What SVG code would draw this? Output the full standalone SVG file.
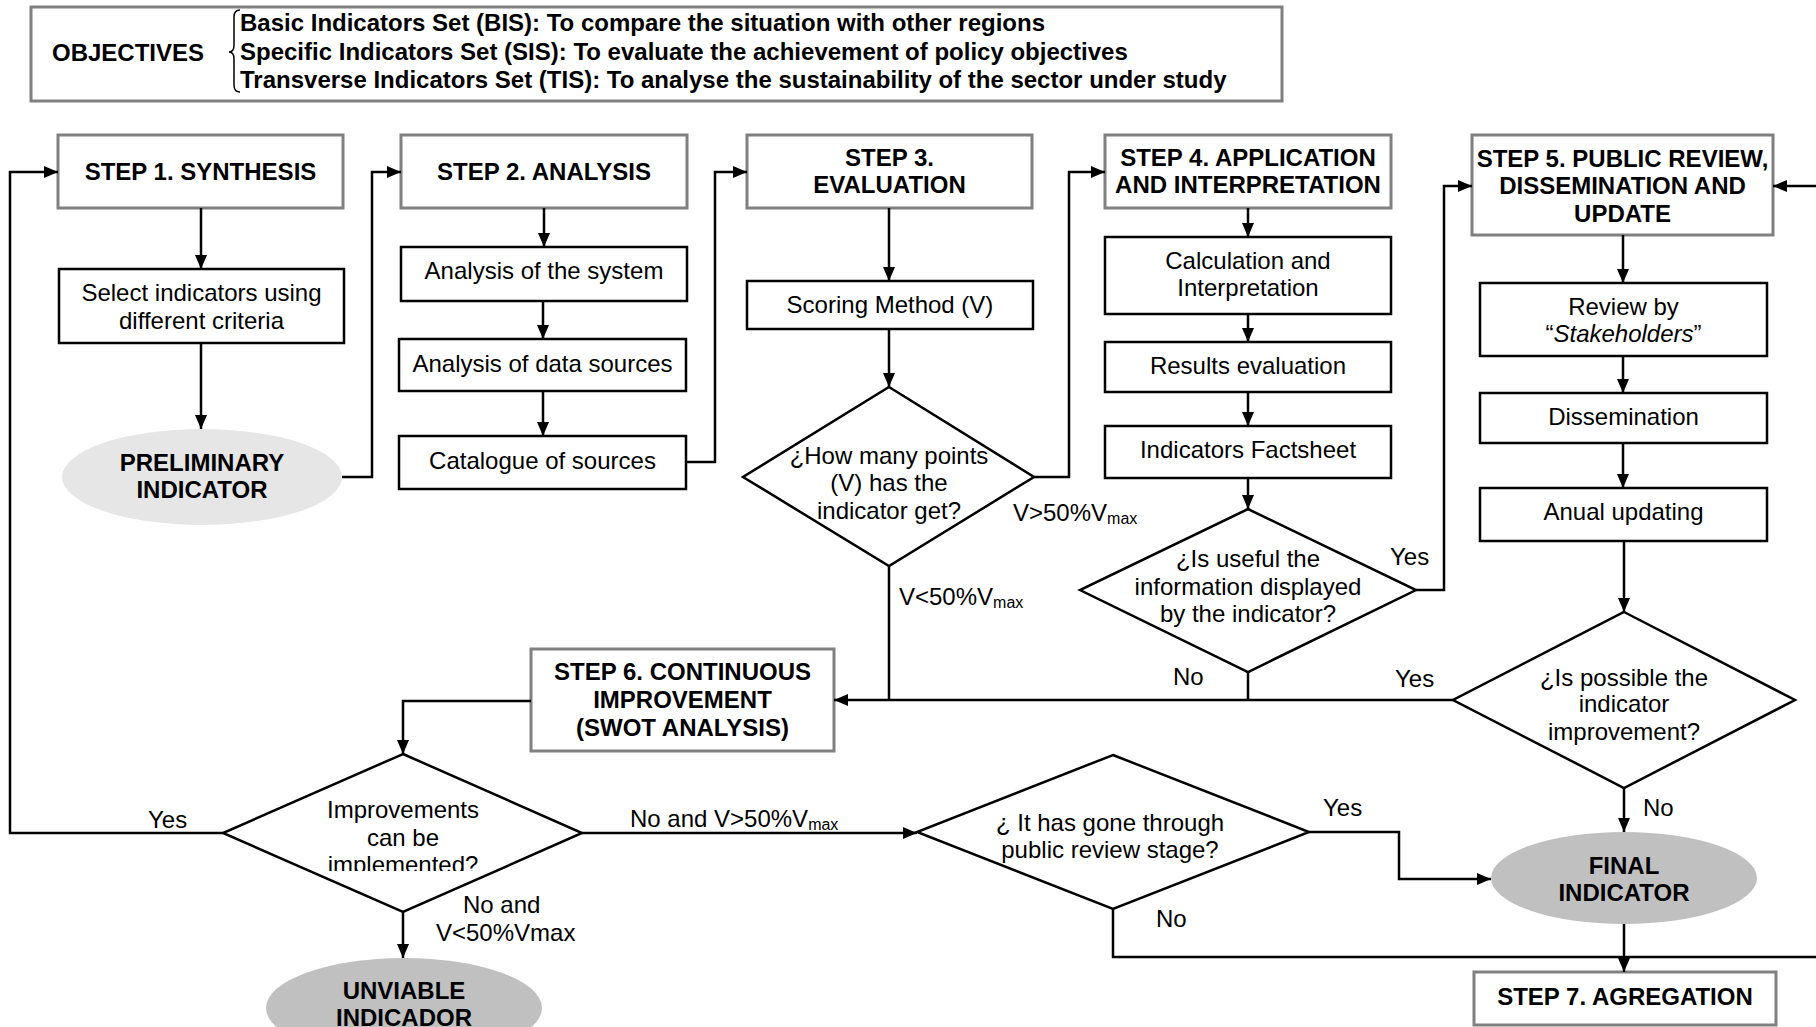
<svg xmlns="http://www.w3.org/2000/svg" width="1816" height="1027" viewBox="0 0 1816 1027">
<style>
text{font-family:"Liberation Sans",Arial,sans-serif;font-size:24px;fill:#000}
.b{font-weight:bold}
.m{text-anchor:middle}
.step{fill:#fff;stroke:#808080;stroke-width:3}
.box{fill:#fff;stroke:#000;stroke-width:2.5}
.dia{fill:#fff;stroke:#000;stroke-width:2.5}
.con path{fill:none;stroke:#000;stroke-width:2.5}
.sub{font-size:16px}
</style>
<defs>
<marker id="ah" markerUnits="userSpaceOnUse" markerWidth="14" markerHeight="12" refX="14" refY="6" orient="auto">
<path d="M0,0 L14,6 L0,12 z" fill="#000"/>
</marker>
<clipPath id="clipImp"><rect x="223" y="754" width="360" height="117"/></clipPath>
</defs>
<rect width="1816" height="1027" fill="#fff"/>

<g id="objectives">
<rect x="31" y="7" width="1251" height="94" fill="#fff" stroke="#808080" stroke-width="3"/>
<text class="b" x="52" y="61">OBJECTIVES</text>
<path d="M240,10 Q234,10 234,17 V45 Q234,52 229,52 Q234,52 234,59 V85 Q234,92 240,92" fill="none" stroke="#000" stroke-width="1.5"/>
<text class="b" x="240" y="31">Basic Indicators Set (BIS): To compare the situation with other regions</text>
<text class="b" x="240" y="60">Specific Indicators Set (SIS): To evaluate the achievement of policy objectives</text>
<text class="b" x="240" y="88">Transverse Indicators Set (TIS): To analyse the sustainability of the sector under study</text>
</g>

<g id="step1"><rect class="step" x="58" y="135" width="285" height="73"/><text class="b m" x="200.5" y="180">STEP 1. SYNTHESIS</text></g>
<g id="select"><rect class="box" x="59" y="269" width="285" height="74"/><text class="m" x="201.5" y="301">Select indicators using</text><text class="m" x="201.5" y="329">different criteria</text></g>
<g id="preliminary"><ellipse cx="202" cy="477" rx="140" ry="48" fill="#e6e6e6"/><text class="b m" x="202" y="471">PRELIMINARY</text><text class="b m" x="202" y="498">INDICATOR</text></g>

<g id="step2"><rect class="step" x="401" y="135" width="286" height="73"/><text class="b m" x="544" y="180">STEP 2. ANALYSIS</text></g>
<g id="analysis_system"><rect class="box" x="401" y="247" width="286" height="54"/><text class="m" x="544" y="279">Analysis of the system</text></g>
<g id="analysis_data"><rect class="box" x="399" y="339" width="287" height="52"/><text class="m" x="542.5" y="372">Analysis of data sources</text></g>
<g id="catalogue"><rect class="box" x="399" y="436" width="287" height="53"/><text class="m" x="542.5" y="469">Catalogue of sources</text></g>

<g id="step3"><rect class="step" x="747" y="135" width="285" height="73"/><text class="b m" x="889.5" y="166">STEP 3.</text><text class="b m" x="889.5" y="193">EVALUATION</text></g>
<g id="scoring"><rect class="box" x="747" y="281" width="286" height="48"/><text class="m" x="890" y="313">Scoring Method (V)</text></g>
<g id="d_points"><polygon class="dia" points="889,387 1034,477 889,566 743,477"/><text class="m" x="889" y="464">¿How many points</text><text class="m" x="889" y="491">(V) has the</text><text class="m" x="889" y="519">indicator get?</text></g>

<g id="step4"><rect class="step" x="1105" y="135" width="286" height="73"/><text class="b m" x="1248" y="166">STEP 4. APPLICATION</text><text class="b m" x="1248" y="193">AND INTERPRETATION</text></g>
<g id="calc"><rect class="box" x="1105" y="237" width="286" height="77"/><text class="m" x="1248" y="269">Calculation and</text><text class="m" x="1248" y="296">Interpretation</text></g>
<g id="results"><rect class="box" x="1105" y="342" width="286" height="50"/><text class="m" x="1248" y="374">Results evaluation</text></g>
<g id="factsheet"><rect class="box" x="1105" y="426" width="286" height="52"/><text class="m" x="1248" y="458">Indicators Factsheet</text></g>
<g id="d_useful"><polygon class="dia" points="1248,509 1416,590 1248,672 1080,590"/><text class="m" x="1248" y="567">¿Is useful the</text><text class="m" x="1248" y="595">information displayed</text><text class="m" x="1248" y="622">by the indicator?</text></g>

<g id="step5"><rect class="step" x="1472" y="135" width="301" height="100"/><text class="b m" x="1622.5" y="167">STEP 5. PUBLIC REVIEW,</text><text class="b m" x="1622.5" y="194">DISSEMINATION AND</text><text class="b m" x="1622.5" y="222">UPDATE</text></g>
<g id="review"><rect class="box" x="1480" y="283" width="287" height="73"/><text class="m" x="1623.5" y="315">Review by</text><text class="m" x="1623.5" y="342">“<tspan font-style="italic">Stakeholders</tspan>”</text></g>
<g id="dissemination"><rect class="box" x="1480" y="393" width="287" height="50"/><text class="m" x="1623.5" y="425">Dissemination</text></g>
<g id="anual"><rect class="box" x="1480" y="488" width="287" height="53"/><text class="m" x="1623.5" y="520">Anual updating</text></g>
<g id="d_possible"><polygon class="dia" points="1624,612 1795,700 1624,788 1453,700"/><text class="m" x="1624" y="686">¿Is possible the</text><text class="m" x="1624" y="712">indicator</text><text class="m" x="1624" y="740">improvement?</text></g>
<g id="final"><ellipse cx="1624" cy="878" rx="133" ry="46" fill="#c0c0c0"/><text class="b m" x="1624" y="874">FINAL</text><text class="b m" x="1624" y="901">INDICATOR</text></g>
<g id="step7"><rect class="step" x="1474" y="972" width="302" height="53"/><text class="b m" x="1625" y="1005">STEP 7. AGREGATION</text></g>

<g id="step6"><rect class="step" x="531" y="649" width="303" height="102"/><text class="b m" x="682.5" y="680">STEP 6. CONTINUOUS</text><text class="b m" x="682.5" y="708">IMPROVEMENT</text><text class="b m" x="682.5" y="736">(SWOT ANALYSIS)</text></g>
<g id="d_improve"><polygon class="dia" points="403,754 582,833 403,912 223,833"/><g clip-path="url(#clipImp)"><text class="m" x="403" y="818">Improvements</text><text class="m" x="403" y="846">can be</text><text class="m" x="403" y="873">implemented?</text></g></g>
<g id="unviable"><ellipse cx="404" cy="1008" rx="138" ry="50" fill="#c0c0c0"/><text class="b m" x="404" y="999">UNVIABLE</text><text class="b m" x="404" y="1026">INDICADOR</text></g>
<g id="d_review"><polygon class="dia" points="1113,755 1309,832 1113,909 917,832"/><text class="m" x="1110" y="831">¿ It has gone through</text><text class="m" x="1110" y="858">public review stage?</text></g>

<g id="connectors" class="con">
<path d="M223,833 H10 V172 H58" marker-end="url(#ah)"/>
<path d="M201,208 V269" marker-end="url(#ah)"/>
<path d="M201,343 V429" marker-end="url(#ah)"/>
<path d="M342,477 H372 V172 H401" marker-end="url(#ah)"/>
<path d="M544,208 V247" marker-end="url(#ah)"/>
<path d="M543,301 V339" marker-end="url(#ah)"/>
<path d="M543,391 V436" marker-end="url(#ah)"/>
<path d="M686,462 H715 V172 H747" marker-end="url(#ah)"/>
<path d="M889,208 V281" marker-end="url(#ah)"/>
<path d="M889,329 V387" marker-end="url(#ah)"/>
<path d="M1034,477 H1069 V172 H1105" marker-end="url(#ah)"/>
<path d="M889,566 V700"/>
<path d="M1248,208 V237" marker-end="url(#ah)"/>
<path d="M1248,314 V342" marker-end="url(#ah)"/>
<path d="M1248,392 V426" marker-end="url(#ah)"/>
<path d="M1248,478 V509" marker-end="url(#ah)"/>
<path d="M1416,590 H1444 V186 H1472" marker-end="url(#ah)"/>
<path d="M1248,672 V700"/>
<path d="M1453,700 H834" marker-end="url(#ah)"/>
<path d="M1623,235 V283" marker-end="url(#ah)"/>
<path d="M1623,356 V393" marker-end="url(#ah)"/>
<path d="M1623,443 V488" marker-end="url(#ah)"/>
<path d="M1624,541 V612" marker-end="url(#ah)"/>
<path d="M1624,788 V832" marker-end="url(#ah)"/>
<path d="M1624,924 V972" marker-end="url(#ah)"/>
<path d="M531,701 H403 V754" marker-end="url(#ah)"/>
<path d="M582,833 H917" marker-end="url(#ah)"/>
<path d="M403,912 V958" marker-end="url(#ah)"/>
<path d="M1309,832 H1399 V879 H1491" marker-end="url(#ah)"/>
<path d="M1113,909 V957 H1816"/>
<path d="M1816,186 H1773" marker-end="url(#ah)"/>
<text x="148" y="828">Yes</text>
<text x="630" y="827">No and V&gt;50%V<tspan class="sub" dy="3">max</tspan></text>
<text x="463" y="913">No and</text>
<text x="436" y="941">V&lt;50%Vmax</text>
<text x="1013" y="521">V&gt;50%V<tspan class="sub" dy="3">max</tspan></text>
<text x="899" y="605">V&lt;50%V<tspan class="sub" dy="3">max</tspan></text>
<text x="1390" y="565">Yes</text>
<text x="1173" y="685">No</text>
<text x="1395" y="687">Yes</text>
<text x="1643" y="816">No</text>
<text x="1323" y="816">Yes</text>
<text x="1156" y="927">No</text>
</g>
</svg>
